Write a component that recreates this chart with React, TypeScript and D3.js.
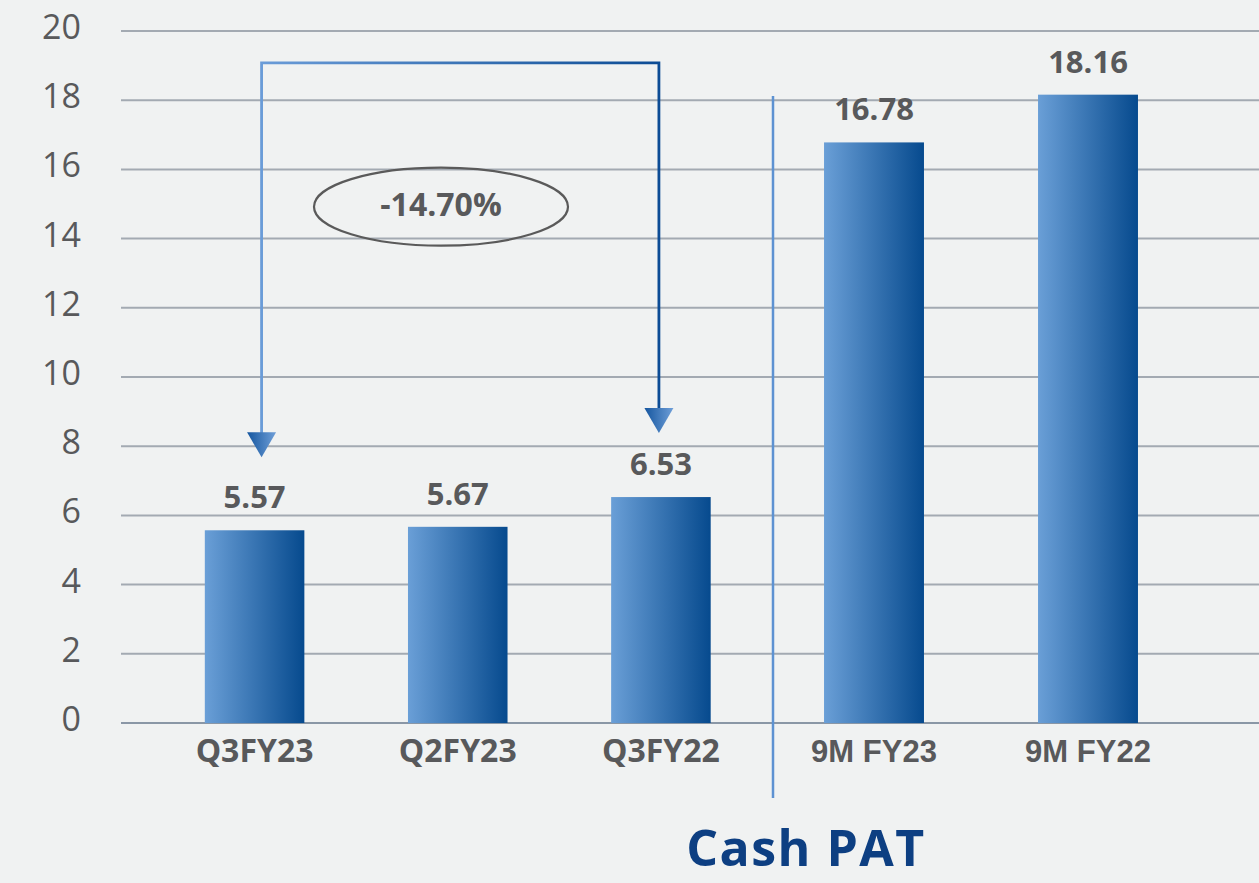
import React from "react";
import * as d3 from "d3";

// ---- data ----
const quarterCategories = ["Q3FY23", "Q2FY23", "Q3FY22"];
const quarterValues = [5.57, 5.67, 6.53];
const nineMonthCategories = ["9M FY23", "9M FY22"];
const nineMonthValues = [16.78, 18.16];
const yTicks = [0, 2, 4, 6, 8, 10, 12, 14, 16, 18, 20];
const changeLabel = "-14.70%";
const chartTitle = "Cash PAT";

// ---- layout ----
const W = 1259;
const H = 883;
const plotLeft = 121;
const plotRight = 1259;
const yTop = 31;
const yBottom = 723;
const separatorX = 773;

const TEXT = "#58595b";
const MONT = "'Open Sans', 'Noto Sans', sans-serif";
const ARIAL = "'Liberation Sans', Arial, sans-serif";

export default function App() {
  const y = d3.scaleLinear().domain([0, 20]).range([yBottom, yTop]);
  const xq = d3
    .scaleBand<string>()
    .domain(quarterCategories)
    .range([153, 762.5])
    .paddingInner(0.51)
    .paddingOuter(0.255);
  const xn = d3
    .scaleBand<string>()
    .domain(nineMonthCategories)
    .range([767, 1195])
    .paddingInner(0.533)
    .paddingOuter(0.2665);

  const groups = [
    { cats: quarterCategories, vals: quarterValues, x: xq, font: MONT, size: 32 },
    { cats: nineMonthCategories, vals: nineMonthValues, x: xn, font: ARIAL, size: 31 },
  ];

  // arrow geometry (from first to last quarter bar)
  const ax1 = (xq(quarterCategories[0]) as number) + xq.bandwidth() / 2 + 7;
  const ax2 = (xq(quarterCategories[2]) as number) + xq.bandwidth() / 2 - 2;
  const aTop = y(19.08);
  const tip1 = y(quarterValues[0]) - 73;
  const tip2 = y(quarterValues[2]) - 64;
  const headH = 25;
  const headW = 29;
  const linePath = d3.path();
  linePath.moveTo(ax1, tip1 - headH + 1);
  linePath.lineTo(ax1, aTop);
  linePath.lineTo(ax2, aTop);
  linePath.lineTo(ax2, tip2 - headH + 1);
  const head = (cx: number, tip: number) =>
    `M${cx - headW / 2},${tip - headH} L${cx + headW / 2},${tip - headH} L${cx},${tip} Z`;

  return (
    <svg
      width={W}
      height={H}
      style={{ position: "absolute", left: 0, top: 0, display: "block" }}
    >
      <defs>
        <linearGradient id="barGrad" x1="0" x2="1" y1="0" y2="0">
          <stop offset="0%" stopColor="#6a9fd7" />
          <stop offset="100%" stopColor="#064a8e" />
        </linearGradient>
        <linearGradient id="lineGrad" gradientUnits="userSpaceOnUse" x1={ax1} x2={ax2} y1="0" y2="0">
          <stop offset="0%" stopColor="#6a9cd8" />
          <stop offset="100%" stopColor="#0c4c95" />
        </linearGradient>
        <linearGradient id="headGrad" x1="0" x2="1" y1="0" y2="0">
          <stop offset="0%" stopColor="#15569f" />
          <stop offset="100%" stopColor="#6f9fd8" />
        </linearGradient>
      </defs>
      <rect x={0} y={0} width={W} height={H} fill="#f0f2f2" />

      {/* gridlines */}
      {yTicks.map((t) => (
        <line
          key={t}
          x1={plotLeft}
          x2={plotRight}
          y1={y(t)}
          y2={y(t)}
          stroke={t === 0 ? "#8a97a6" : "#a3aab2"}
          strokeWidth={2}
        />
      ))}
      {/* y tick labels */}
      {yTicks.map((t) => (
        <text
          key={"l" + t}
          x={81}
          y={y(t) + 8}
          textAnchor="end"
          fontFamily={MONT}
          fontSize={34}
          fill={TEXT}
        >
          {t}
        </text>
      ))}

      {/* bars, value labels, category labels */}
      {groups.map((g, gi) =>
        g.cats.map((c, i) => {
          const bx = g.x(c) as number;
          const bw = g.x.bandwidth();
          const v = g.vals[i];
          return (
            <g key={gi + c}>
              <rect x={bx} y={y(v)} width={bw} height={y(0) - y(v)} fill="url(#barGrad)" />
              <text
                x={bx + bw / 2}
                y={y(v) - 22}
                textAnchor="middle"
                fontFamily={MONT}
                fontWeight={700}
                fontSize={31}
                fill={TEXT}
              >
                {v.toFixed(2)}
              </text>
              <text
                x={bx + bw / 2}
                y={762}
                textAnchor="middle"
                fontFamily={g.font}
                fontWeight={700}
                fontSize={g.size}
                fill={TEXT}
              >
                {c}
              </text>
            </g>
          );
        })
      )}

      {/* separator */}
      <line x1={separatorX} x2={separatorX} y1={96} y2={798} stroke="#5d92d2" strokeWidth={2.5} />

      {/* change arrow */}
      <path d={linePath.toString()} fill="none" stroke="url(#lineGrad)" strokeWidth={2.8} />
      <path d={head(ax1, tip1)} fill="url(#headGrad)" />
      <path d={head(ax2, tip2)} fill="url(#headGrad)" />

      {/* change bubble */}
      <ellipse cx={441} cy={206.7} rx={127} ry={39} fill="none" stroke="#5a5a5a" strokeWidth={2.2} />
      <text
        x={441}
        y={216}
        textAnchor="middle"
        fontFamily={MONT}
        fontWeight={700}
        fontSize={32}
        fill={TEXT}
      >
        {changeLabel}
      </text>

      {/* title */}
      <text
        x={806}
        y={866}
        textAnchor="middle"
        fontFamily={MONT}
        fontWeight={700}
        fontSize={50}
        letterSpacing={1.5}
        fill="#0d3f82"
      >
        {chartTitle}
      </text>
    </svg>
  );
}
